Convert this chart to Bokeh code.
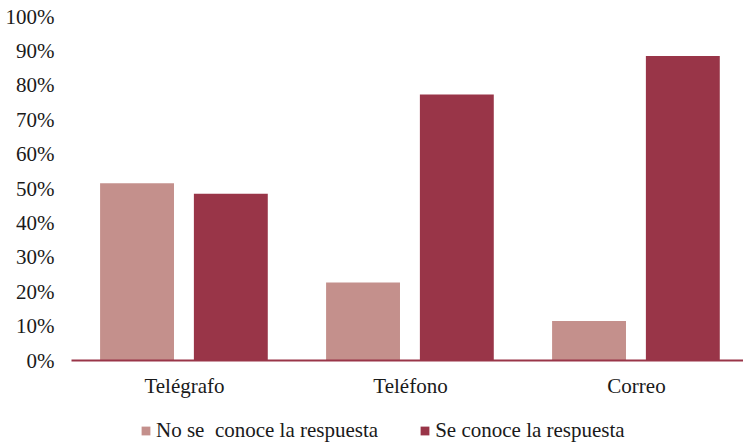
from bokeh.plotting import figure
from bokeh.layouts import column
from bokeh.models import Range1d, NumeralTickFormatter, FixedTicker, Legend, LegendItem, ColumnDataSource
from bokeh.embed import file_html
from bokeh.resources import INLINE

categories = ["Telégrafo", "Teléfono", "Correo"]
no_se_conoce = [0.515, 0.227, 0.115]
se_conoce = [0.485, 0.773, 0.885]
series_names = ["No se  conoce la respuesta", "Se conoce la respuesta"]
y_ticks = [0.0, 0.1, 0.2, 0.3, 0.4, 0.5, 0.6, 0.7, 0.8, 0.9, 1.0]

LIGHT = "#c4908c"
DARK = "#993548"
FONT = "Liberation Serif"
TXT = "#1a1a1a"
FS = "21px"

xs = list(range(len(categories)))
src = ColumnDataSource(dict(
    x1=[x - 0.21 for x in xs], x2=[x + 0.205 for x in xs],
    a=no_se_conoce, b=se_conoce))

p = figure(width=743, height=400, output_backend="svg", toolbar_location=None,
           x_range=Range1d(-0.5, -0.5 + 672 / 226), y_range=Range1d(0, 1),
           min_border_left=71, min_border_right=0, min_border_top=16, min_border_bottom=40)
p.outline_line_color = None
p.grid.grid_line_color = None

p.vbar(x="x1", top="a", width=0.327, source=src, fill_color=LIGHT, line_color=None)
p.vbar(x="x2", top="b", width=0.327, source=src, fill_color=DARK, line_color=None)

p.yaxis.ticker = FixedTicker(ticks=y_ticks)
p.yaxis.formatter = NumeralTickFormatter(format="0%")
p.yaxis.axis_line_color = None
p.yaxis.major_tick_line_color = None
p.yaxis.minor_tick_line_color = None
p.yaxis.major_tick_out = 0
p.yaxis.major_label_standoff = 17
p.yaxis.major_label_text_font = FONT
p.yaxis.major_label_text_font_size = FS
p.yaxis.major_label_text_color = TXT

p.xaxis.ticker = FixedTicker(ticks=xs)
p.xaxis.major_label_overrides = {i: c for i, c in enumerate(categories)}
p.xaxis.axis_line_color = DARK
p.xaxis.axis_line_width = 2
p.xaxis.major_tick_line_color = None
p.xaxis.minor_tick_line_color = None
p.xaxis.major_tick_out = 0
p.xaxis.major_label_standoff = 13
p.xaxis.major_label_text_font = FONT
p.xaxis.major_label_text_font_size = FS
p.xaxis.major_label_text_color = TXT

# legend strip (its renderers reuse the data but lie outside this strip's range)
p2 = figure(width=743, height=43, output_backend="svg", toolbar_location=None,
            x_range=Range1d(0, 672), y_range=Range1d(10, 53),
            min_border_left=0, min_border_right=0, min_border_top=0, min_border_bottom=0)
p2.axis.visible = False
p2.grid.grid_line_color = None
p2.outline_line_color = None
l1 = p2.vbar(x="x1", top="a", width=0.327, source=src, fill_color=LIGHT, line_color=None)
l2 = p2.vbar(x="x2", top="b", width=0.327, source=src, fill_color=DARK, line_color=None)
legend = Legend(items=[LegendItem(label=series_names[0], renderers=[l1]),
                       LegendItem(label=series_names[1], renderers=[l2])],
                orientation="horizontal", location=(69, 0),
                glyph_width=11, glyph_height=11, label_standoff=5, spacing=41,
                padding=0, margin=0, border_line_color=None, background_fill_alpha=0,
                label_text_font=FONT, label_text_font_size=FS, label_text_color=TXT)
p2.add_layout(legend, "center")

layout = column(p, p2, spacing=0)
open("out.html", "w").write(file_html(layout, INLINE))
